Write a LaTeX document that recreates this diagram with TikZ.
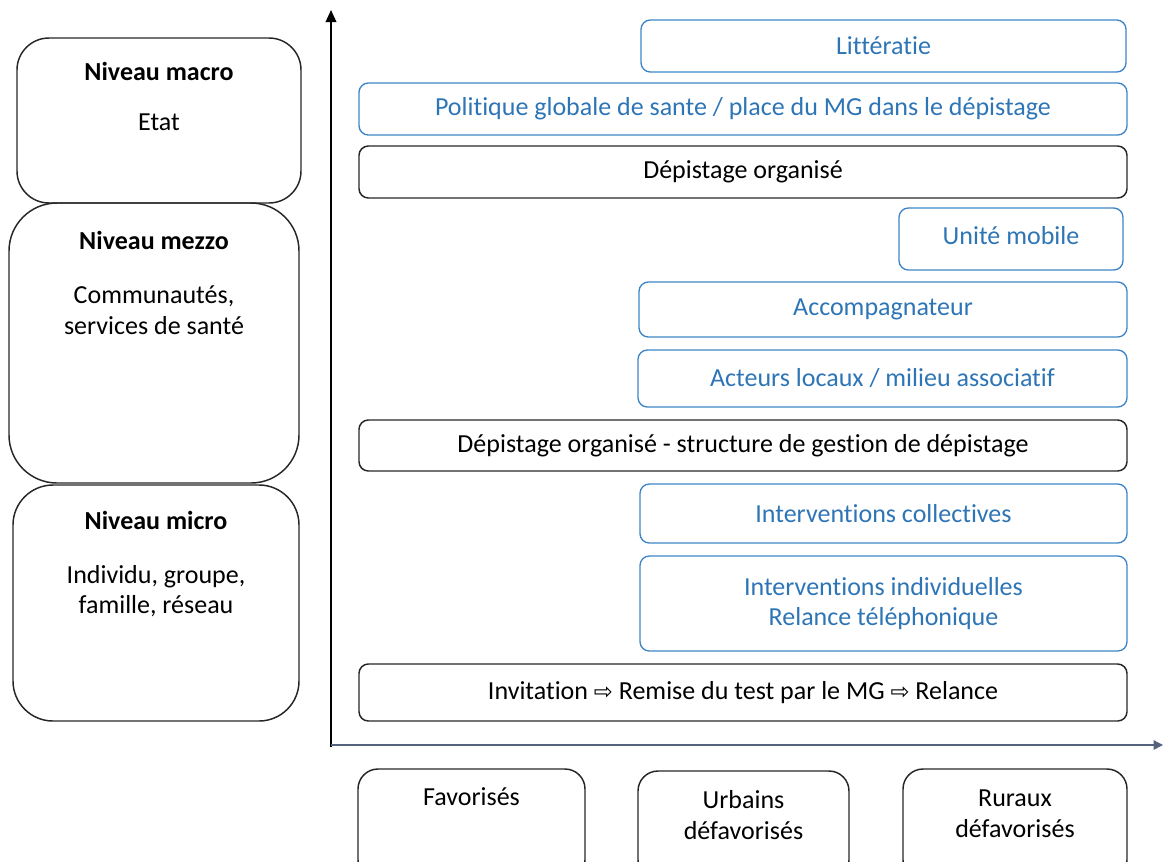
\documentclass[tikz,border=0pt]{standalone}
\usepackage{fontspec}
\setmainfont{Carlito}[Ligatures={NoCommon}]
\newfontfamily\symfont{DejaVu Sans}
\usepackage{xcolor}
\usetikzlibrary{arrows.meta, positioning}

\definecolor{mgblue}{RGB}{46,117,182}
\definecolor{mgborder}{RGB}{62,133,200}
\definecolor{axisgray}{RGB}{84,100,124}

\begin{document}
\begin{tikzpicture}[
            x=0.75pt, y=-0.75pt,
            font=\fontsize{19.5}{23}\selectfont,
            level/.style={draw=black!85, line width=1.1pt, rectangle, rounded corners=#1},
            blackbox/.style={draw=black!85, line width=1.1pt, rectangle, rounded corners=7pt, align=center},
            bluebox/.style={draw=mgborder, line width=1pt, rectangle, rounded corners=7pt, align=center, text=mgblue},
            groupbox/.style={draw=black!85, line width=1.1pt, rectangle, rounded corners=15pt},
            title/.style={font=\fontsize{19.5}{23}\selectfont\bfseries},
            axis1/.style={-{Triangle[length=9pt, width=8pt]}, line width=1pt},
            axis2/.style={-{Triangle[length=7pt, width=7pt]}, line width=1pt, axisgray},
        ]
            \useasboundingbox (0,0) rectangle (1163,861);

            % Levels
            \node[level=24pt, minimum width=213pt, minimum height=123.75pt] (macro) at (159,120.5) {};
            \node[title] (macroTitle) at (159,71) {Niveau macro};
            \node (macroBody) at (159,122) {Etat};
            \node[level=36pt, minimum width=217.5pt, minimum height=210pt] (mezzo) at (154,343) {};
            \node[title] (mezzoTitle) at (154,240) {Niveau mezzo};
            \node[align=center] (mezzoBody) at (154,310) {Communautés,\\services de santé};
            \node[level=30pt, minimum width=214.5pt, minimum height=177pt] (micro) at (156,603) {};
            \node[title] (microTitle) at (156,520) {Niveau micro};
            \node[align=center] (microBody) at (156,591) {Individu, groupe,\\famille, réseau};

            % Interventions
            \node[bluebox, minimum width=363.75pt, minimum height=39pt] (litteratie) at (883.5,46) {Littératie};
            \node[bluebox, minimum width=576pt, minimum height=39pt] (politique) at (743,109) {Politique globale de sante / place du MG dans le dépistage};
            \node[blackbox, minimum width=576pt, minimum height=39pt] (depOrg) at (743,172) {Dépistage organisé};
            \node[bluebox, minimum width=168pt, minimum height=46.5pt, text depth=6pt] (uniteMobile) at (1011,239) {Unité mobile};
            \node[bluebox, minimum width=366pt, minimum height=41.25pt] (accomp) at (883,309.5) {Accompagnateur};
            \node[bluebox, minimum width=366.75pt, minimum height=42.75pt] (acteurs) at (882.5,378.5) {Acteurs locaux / milieu associatif};
            \node[blackbox, minimum width=576pt, minimum height=38.25pt] (structure) at (743,445.5) {Dépistage organisé - structure de gestion de dépistage};
            \node[bluebox, minimum width=365.25pt, minimum height=44.25pt] (collectives) at (883.5,513.5) {Interventions collectives};
            \node[bluebox, minimum width=365.25pt, minimum height=71.25pt] (individuelles) at (883.5,603.5) {Interventions individuelles\\Relance téléphonique};
            \node[blackbox, minimum width=576pt, minimum height=42.75pt] (invitation) at (743,692.5) {Invitation {\symfont\fontsize{17}{17}\selectfont ⇨} Remise du test par le MG {\symfont\fontsize{17}{17}\selectfont ⇨} Relance};

            % Populations
            \node[groupbox, minimum width=170.25pt, minimum height=83.25pt] (favorises) at (471.5,824.5) {};
            \node (favText) at (471.5,797) {Favorisés};
            \node[groupbox, minimum width=158.25pt, minimum height=81.75pt] (urbains) at (743.5,825.5) {};
            \node[align=center] (urbText) at (743.5,815) {Urbains\\défavorisés};
            \node[groupbox, minimum width=168pt, minimum height=83.25pt] (ruraux) at (1015,824.5) {};
            \node[align=center] (rurText) at (1015,814) {Ruraux\\défavorisés};

            % Axes
            \coordinate (yStart) at (331,747);
            \coordinate (yEnd) at (331,10);
            \coordinate (xStart) at (331,745);
            \coordinate (xEnd) at (1163,745);
            \draw[axis1] (yStart) -- (yEnd);
            \draw[axis2] (xStart) -- (xEnd);

        \end{tikzpicture}
\end{document}
